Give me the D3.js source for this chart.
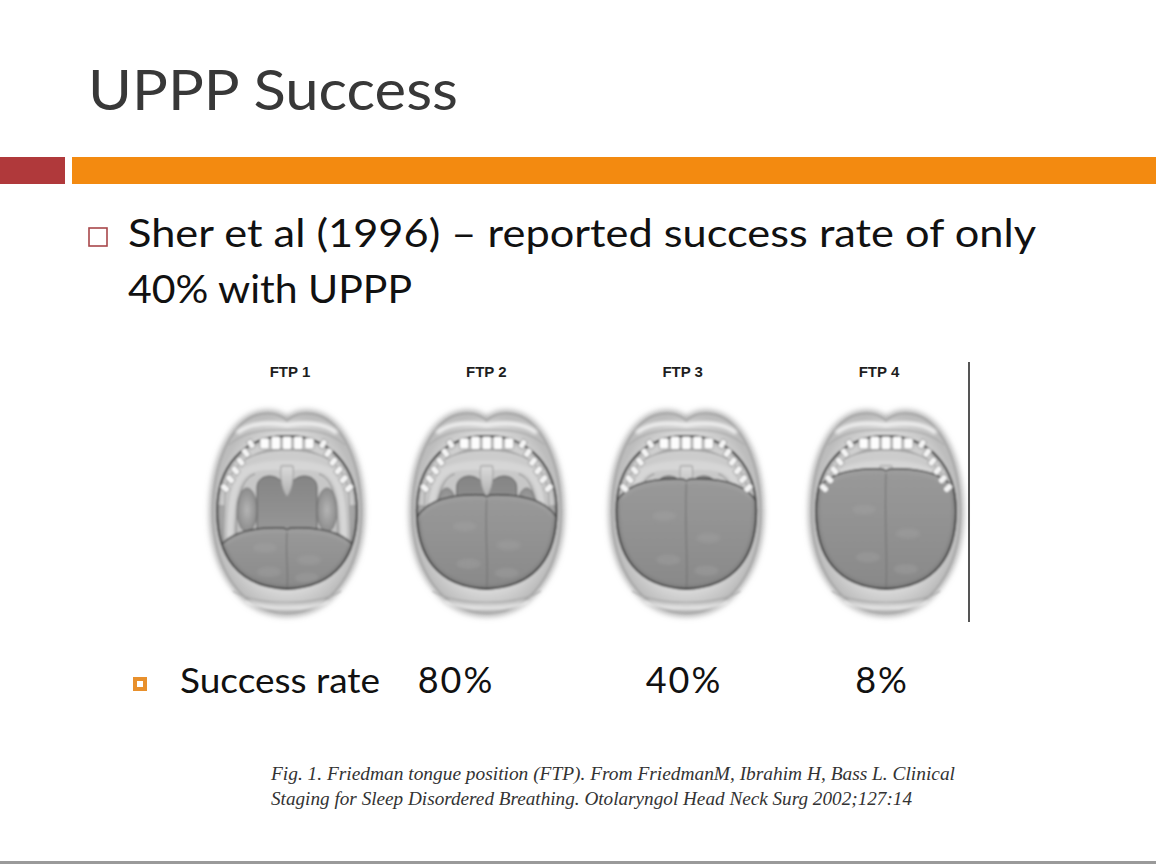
<!DOCTYPE html>
<html>
<head>
<meta charset="utf-8">
<script src="https://cdn.jsdelivr.net/npm/d3@7"></script>
<style>
  html, body { margin: 0; padding: 0; background: #ffffff; }
  svg { display: block; }
</style>
</head>
<body>
<svg id="chart" width="1156" height="864"></svg>
<script>
// ---------------- data ----------------
const categories   = ["FTP 1", "FTP 2", "FTP 3", "FTP 4"];
const ftpLevels    = [1, 2, 3, 4];
const successRates = [null, 80, 40, 8];
const titleText    = "UPPP Success";
const bulletLines  = ["Sher et al (1996) \u2013 reported success rate of only", "40% with UPPP"];
const rateLabel    = "Success rate";
const captionLines = [
  "Fig. 1. Friedman tongue position (FTP). From FriedmanM, Ibrahim H, Bass L. Clinical",
  "Staging for Sleep Disordered Breathing. Otolaryngol Head Neck Surg 2002;127:14"
];

// ---------------- layout / style ----------------
const W = 1156, H = 864;
const svg = d3.select("#chart");
const BODY_FONT = "Lato, 'Open Sans', 'DejaVu Sans', sans-serif";

const xMouth = d3.scalePoint().domain(categories).range([287, 886]);
const xLabel = d3.scalePoint().domain(categories).range([290, 879]);
const xRate  = d3.scalePoint().domain(categories).range([290, 884]);
const rateNudge = [0, -32, -2, -2];
// tongue top (local units relative to mouth centre) by Friedman tongue position
const tongueTop = d3.scaleLinear().domain([1, 2, 3, 4]).range([14, -19, -35, -45]);
const mouthCY = 513;

// defs
const defs = svg.append("defs");
const blur = (id, sd) => defs.append("filter").attr("id", id)
  .attr("x", "-30%").attr("y", "-30%").attr("width", "160%").attr("height", "160%")
  .append("feGaussianBlur").attr("stdDeviation", sd);
blur("blurSoft", 0.85);
blur("blurLip", 3);
blur("blurMid", 1.5);

const lg = (id, stops, x2 = 0, y2 = 1) => {
  const g = defs.append("linearGradient").attr("id", id)
    .attr("x1", 0).attr("y1", 0).attr("x2", x2).attr("y2", y2);
  stops.forEach(([o, c]) => g.append("stop").attr("offset", o).attr("stop-color", c));
};
const rg = (id, stops) => {
  const g = defs.append("radialGradient").attr("id", id);
  stops.forEach(([o, c]) => g.append("stop").attr("offset", o).attr("stop-color", c));
};
rg("lipGrad", [[0, "#e4e4e4"], [0.78, "#d8d8d8"], [1, "#bcbcbc"]]);
lg("tongueGrad", [[0, "#999999"], [0.5, "#919191"], [1, "#888888"]]);
lg("uvulaGrad", [[0, "#dadada"], [1, "#b0b0b0"]]);
lg("palateGrad", [[0, "#cdcdcd"], [1, "#b4b4b4"]]);
lg("pharynxGrad", [[0, "#858585"], [1, "#9a9a9a"]]);
rg("tonsilGrad", [[0, "#b4b4b4"], [1, "#8c8c8c"]]);

const openingPath = "M-70,-2 C-70,-45 -45,-77 0,-77 C45,-77 70,-45 70,-2 C70,42 50,74 0,76 " +
                    "C-50,74 -70,42 -70,-2 Z";
defs.append("clipPath").attr("id", "openClip").append("path").attr("d", openingPath);

// ---------------- header ----------------
svg.append("text").text(titleText)
  .attr("x", 88).attr("y", 110)
  .attr("font-family", BODY_FONT).attr("font-size", 57).attr("font-weight", 400)
  .attr("fill", "#383838")
  .attr("textLength", 370).attr("lengthAdjust", "spacingAndGlyphs");

svg.append("rect").attr("x", 0).attr("y", 157).attr("width", 65).attr("height", 27).attr("fill", "#B0393B");
svg.append("rect").attr("x", 72).attr("y", 157).attr("width", W - 72).attr("height", 27).attr("fill", "#F38A10");

svg.append("rect").attr("x", 89).attr("y", 228).attr("width", 18).attr("height", 18)
  .attr("fill", "none").attr("stroke", "#A8474A").attr("stroke-width", 1.6);

const bulletWidths = [908, 284];
svg.selectAll("text.bullet").data(bulletLines).join("text")
  .attr("class", "bullet")
  .attr("x", 128).attr("y", (d, i) => 247 + i * 56)
  .attr("font-family", BODY_FONT).attr("font-size", 39)
  .attr("fill", "#111")
  .attr("textLength", (d, i) => bulletWidths[i]).attr("lengthAdjust", "spacingAndGlyphs")
  .text(d => d);

// ---------------- FTP labels ----------------
svg.selectAll("text.ftp").data(categories).join("text")
  .attr("class", "ftp")
  .attr("x", d => xLabel(d)).attr("y", 377)
  .attr("text-anchor", "middle")
  .attr("font-family", "'Liberation Sans', Arial, sans-serif")
  .attr("font-weight", 700).attr("font-size", 15)
  .attr("fill", "#1e1e1e")
  .text(d => d);

// ---------------- mouths ----------------
const lipPath = "M0,-92 C8,-100 20,-101 30,-98 C56,-90 74,-50 74,0 C74,55 45,100 0,100 " +
                "C-45,100 -74,55 -74,0 C-74,-50 -56,-90 -30,-98 C-20,-101 -8,-100 0,-92 Z";
const archPath = "M-62,-22 C-56,-50 -36,-63 0,-63 C36,-63 56,-50 62,-22 L66,80 L-66,80 Z";

function tonguePath(t) {
  const side = Math.min(t + 28, 45);
  return `M-72,${side} C-62,${t + 3} -30,${t} -3,${t + 1} Q0,${t + 4} 3,${t + 1} ` +
         `C30,${t} 62,${t + 3} 72,${side} L74,82 L-74,82 Z`;
}
function tongueEdge(t) {
  const side = Math.min(t + 28, 45);
  return `M-72,${side} C-62,${t + 3} -30,${t} -3,${t + 1} Q0,${t + 4} 3,${t + 1} ` +
         `C30,${t} 62,${t + 3} 72,${side}`;
}

function drawMouth(g, level) {
  const t = tongueTop(level);
  g.append("path").attr("d", lipPath).attr("fill", "none")
    .attr("stroke", "#9e9e9e").attr("stroke-width", 6).attr("filter", "url(#blurLip)");
  const m = g.append("g").attr("filter", "url(#blurSoft)");
  m.append("path").attr("d", lipPath).attr("fill", "url(#lipGrad)")
    .attr("stroke", "#a0a0a0").attr("stroke-width", 1.4);
  m.append("path").attr("d", "M-50,-80 C-35,-92 -15,-90 0,-88 C15,-90 35,-92 50,-80")
    .attr("fill", "none").attr("stroke", "#f4f4f4").attr("stroke-width", 4).attr("filter", "url(#blurMid)");
  m.append("path").attr("d", "M-58,-68 C-40,-84 -15,-83 0,-83 C15,-83 40,-84 58,-68")
    .attr("fill", "none").attr("stroke", "#a2a2a2").attr("stroke-width", 1);
  m.append("path").attr("d", "M-54,78 C-30,93 30,93 54,78")
    .attr("fill", "none").attr("stroke", "#a8a8a8").attr("stroke-width", 1.2);
  m.append("path").attr("d", "M-42,89 C-20,97 20,97 42,89")
    .attr("fill", "none").attr("stroke", "#efefef").attr("stroke-width", 3).attr("filter", "url(#blurMid)");

  const c = m.append("g").attr("clip-path", "url(#openClip)");
  c.append("path").attr("d", openingPath).attr("fill", "#a9a9a9");
  c.append("path").attr("d", "M-66,-8 C-64,-45 -42,-72 0,-72 C42,-72 64,-45 66,-8")
    .attr("fill", "none").attr("stroke", "#cfcfcf").attr("stroke-width", 12);
  c.append("path").attr("d", archPath).attr("fill", "url(#palateGrad)")
    .attr("stroke", "#959595").attr("stroke-width", 1);
  c.append("path").attr("d", "M-48,-40 C-30,-54 30,-54 48,-40")
    .attr("fill", "none").attr("stroke", "#dcdcdc").attr("stroke-width", 3).attr("filter", "url(#blurMid)");

  c.append("path")
    .attr("d", "M-30,30 L-30,-26 C-30,-35 -20,-39 -12,-36 C-7,-34 -4,-30 0,-30 " +
               "C4,-30 7,-34 12,-36 C20,-39 30,-35 30,-26 L30,30 Z")
    .attr("fill", "url(#pharynxGrad)").attr("stroke", "#5a5a5a").attr("stroke-width", 1);
  [-1, 1].forEach(s => {
    c.append("ellipse").attr("cx", s * 40).attr("cy", -3).attr("rx", 10).attr("ry", 22)
      .attr("fill", "url(#tonsilGrad)").attr("stroke", "#6e6e6e").attr("stroke-width", 0.8);
    c.append("path")
      .attr("d", `M${s * 57},30 C${s * 57},-10 ${s * 54},-38 ${s * 34},-44 C${s * 22},-47 ${s * 10},-46 ${s * 5},-46`)
      .attr("fill", "none").attr("stroke", "#d6d6d6").attr("stroke-width", 6);
    c.append("path")
      .attr("d", `M${s * 51},30 C${s * 51},-8 ${s * 48},-34 ${s * 32},-39`)
      .attr("fill", "none").attr("stroke", "#808080").attr("stroke-width", 1);
  });
  c.append("path").attr("d", "M-6,-47 C-7,-36 -6,-24 0,-16 C6,-24 7,-36 6,-47 Z")
    .attr("fill", "url(#uvulaGrad)").attr("stroke", "#8e8e8e").attr("stroke-width", 0.8);

  c.append("path").attr("d", tonguePath(t)).attr("fill", "url(#tongueGrad)");
  c.append("path").attr("d", tongueEdge(t)).attr("fill", "none")
    .attr("stroke", "#404040").attr("stroke-width", 1.5);
  c.append("path").attr("d", tongueEdge(t)).attr("fill", "none")
    .attr("transform", "translate(0,3)")
    .attr("stroke", "#a6a6a6").attr("stroke-width", 1.2).attr("filter", "url(#blurMid)");
  c.append("path").attr("d", `M0,${t + 5} C-2,${(t + 5) * 0.5 + 35} 2,${(t + 5) * 0.25 + 52} 0,76`)
    .attr("fill", "none").attr("stroke", "#727272").attr("stroke-width", 1.1);
  [[-22, 0.35], [22, 0.55], [-18, 0.75], [20, 0.85]].forEach(([px, f]) => {
    c.append("ellipse").attr("cx", px).attr("cy", t + (74 - t) * f).attr("rx", 12).attr("ry", 5)
      .attr("fill", "#a4a4a4").attr("opacity", 0.4).attr("filter", "url(#blurMid)");
  });
  c.append("path").attr("d", openingPath).attr("fill", "none")
    .attr("stroke", "#5a5a5a").attr("stroke-width", 5).attr("opacity", 0.35).attr("filter", "url(#blurMid)");

  m.append("path").attr("d", openingPath).attr("fill", "none")
    .attr("stroke", "#333").attr("stroke-width", 1.8);

  const tw = 11.2;
  m.selectAll("rect.tooth").data(d3.range(5)).join("rect")
    .attr("class", "tooth")
    .attr("x", i => -28 + i * tw + 0.9).attr("y", i => (i === 0 || i === 4) ? -75 : -76.5)
    .attr("width", tw - 1.8).attr("height", i => (i === 0 || i === 4) ? 11 : 13)
    .attr("rx", 2)
    .attr("fill", "#fcfcfc").attr("stroke", "#8e8e8e").attr("stroke-width", 0.8);
  [-1, 1].forEach(s => {
    d3.range(6).forEach(k => {
      const f = k / 5;
      const cx = s * (36 + f * 26), cy = -69 + f * 44;
      m.append("rect")
        .attr("x", -4.6).attr("y", -3).attr("width", 9.2).attr("height", 6).attr("rx", 1.8)
        .attr("transform", `translate(${cx},${cy}) rotate(${s * (-58 + f * 14)})`)
        .attr("fill", "#f4f4f4").attr("stroke", "#8a8a8a").attr("stroke-width", 0.8);
    });
  });
}

const mouths = svg.selectAll("g.mouth").data(categories).join("g")
  .attr("class", "mouth")
  .attr("transform", d => `translate(${xMouth(d)},${mouthCY})`);
mouths.each(function (d, i) { drawMouth(d3.select(this), ftpLevels[i]); });

svg.append("line").attr("x1", 969).attr("x2", 969).attr("y1", 362).attr("y2", 622)
  .attr("stroke", "#555").attr("stroke-width", 2);

// ---------------- success rates ----------------
svg.append("rect").attr("x", 135).attr("y", 679).attr("width", 10).attr("height", 10)
  .attr("fill", "#fff").attr("stroke", "#E8902C").attr("stroke-width", 4);
svg.append("text").text(rateLabel)
  .attr("x", 180).attr("y", 693)
  .attr("font-family", BODY_FONT).attr("font-size", 35).attr("fill", "#111")
  .attr("textLength", 200).attr("lengthAdjust", "spacingAndGlyphs");

const fmtPct = v => d3.format("d")(v) + "%";
svg.selectAll("text.rate").data(categories.map((c, i) => ({ c, v: successRates[i], n: rateNudge[i] }))
    .filter(d => d.v != null))
  .join("text")
  .attr("class", "rate")
  .attr("x", d => xRate(d.c) + d.n).attr("y", 693)
  .attr("text-anchor", "middle")
  .attr("font-family", BODY_FONT).attr("font-size", 36).attr("fill", "#111")
  .attr("letter-spacing", 2)
  .text(d => fmtPct(d.v));

// ---------------- caption ----------------
const capWidths = [684, 641];
svg.selectAll("text.cap").data(captionLines).join("text")
  .attr("class", "cap")
  .attr("x", 271).attr("y", (d, i) => 780 + i * 25)
  .attr("font-family", "'Liberation Serif', 'Times New Roman', serif")
  .attr("font-style", "italic").attr("font-size", 18.5).attr("fill", "#333")
  .attr("textLength", (d, i) => capWidths[i]).attr("lengthAdjust", "spacingAndGlyphs")
  .text(d => d);

svg.append("rect").attr("x", 0).attr("y", 861).attr("width", W).attr("height", 3).attr("fill", "#9a9a9a");
</script>
</body>
</html>
